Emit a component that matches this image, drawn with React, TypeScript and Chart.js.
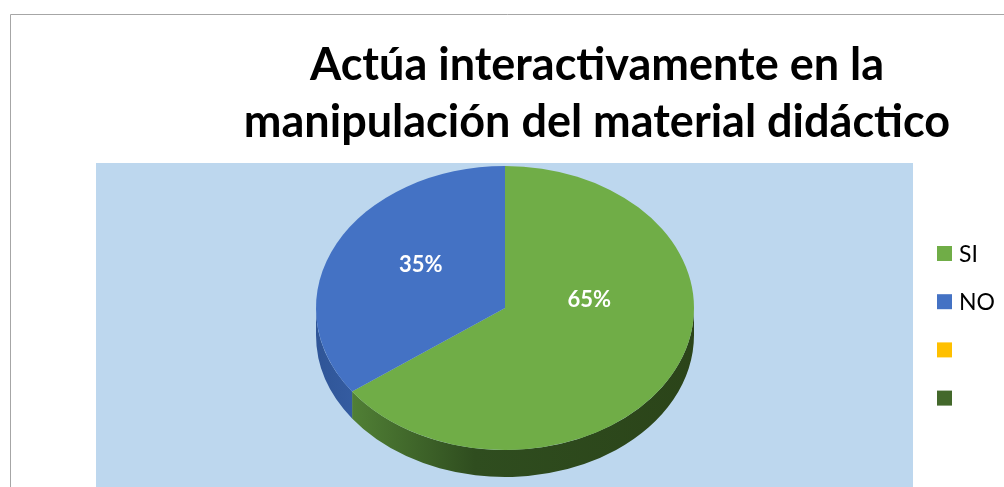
import React, { useEffect, useRef } from 'react';
import { Chart, registerables } from 'chart.js';

Chart.register(...registerables);

const TITLE_LINES = ['Actúa interactivamente en la', 'manipulación del material didáctico'];
const CATEGORIES = ['SI', 'NO', '', ''];
const VALUES = [65, 35, 0, 0];
const TOP_COLORS = ['#70AD47', '#4472C4', '#FFC000', '#43682B'];
const SIDE_STOPS: [number, string][][] = [
  [[0, '#5b8e3d'], [0.1, '#507f35'], [0.42, '#2f4d1f'], [1, '#2b4419']],
  [[0, '#2f5597'], [0.2, '#3a63ab'], [1, '#3a63ab']],
  [[0, '#c99700'], [1, '#c99700']],
  [[0, '#2e4a1e'], [1, '#2e4a1e']],
];

const W = 1004;
const H = 487;
const PLOT = { left: 96, top: 163, right: 913, bottom: 487 };
const PIE = { cx: 505, cy: 308, rx: 189, ry: 142, depth: 27 };
const LABEL = { cy: 282.5, k: 0.54 };
const LEGEND = { boxX: 937, textX: 959, firstY: 253.5, step: 48.2, box: 15, font: '23px Lato' };

const pie3d = {
  id: 'pie3d',
  beforeDraw(chart: any) {
    const ctx = chart.ctx;
    ctx.save();
    ctx.fillStyle = '#ffffff';
    ctx.fillRect(0, 0, chart.width, chart.height);
    ctx.fillStyle = '#BDD7EE';
    ctx.fillRect(PLOT.left, PLOT.top, PLOT.right - PLOT.left, PLOT.bottom - PLOT.top);
    ctx.strokeStyle = '#A6A6A6';
    ctx.lineWidth = 1;
    ctx.beginPath();
    ctx.moveTo(10.5, H);
    ctx.lineTo(10.5, 14.5);
    ctx.lineTo(W, 14.5);
    ctx.stroke();
    ctx.restore();
  },
  beforeDatasetsDraw(chart: any) {
    const ctx = chart.ctx;
    const arcs = chart.getDatasetMeta(0).data;
    arcs.forEach((arc: any, i: number) => {
      const { startAngle, endAngle } = arc.getProps(['startAngle', 'endAngle'], true);
      const a = Math.max(startAngle, 0);
      const b = Math.min(endAngle, Math.PI);
      if (b - a <= 1e-4) return;
      ctx.save();
      ctx.beginPath();
      ctx.ellipse(PIE.cx, PIE.cy, PIE.rx, PIE.ry, 0, a, b, false);
      ctx.ellipse(PIE.cx, PIE.cy + PIE.depth, PIE.rx, PIE.ry, 0, b, a, true);
      ctx.closePath();
      const g = ctx.createLinearGradient(PIE.cx - PIE.rx, 0, PIE.cx + PIE.rx, 0);
      SIDE_STOPS[i].forEach(([o, c]) => g.addColorStop(o, c));
      ctx.fillStyle = g;
      ctx.fill();
      ctx.restore();
    });
    const { x, y, outerRadius } = arcs[0].getProps(['x', 'y', 'outerRadius'], true);
    ctx.save();
    ctx.translate(PIE.cx, PIE.cy);
    ctx.scale(PIE.rx / outerRadius, PIE.ry / outerRadius);
    ctx.translate(-x, -y);
  },
  afterDatasetsDraw(chart: any) {
    const ctx = chart.ctx;
    ctx.restore();
    const arcs = chart.getDatasetMeta(0).data;
    const data = chart.data.datasets[0].data as number[];
    const total = data.reduce((s, v) => s + v, 0);
    ctx.save();
    ctx.fillStyle = '#ffffff';
    ctx.font = 'bold 22px Lato';
    ctx.textAlign = 'center';
    ctx.textBaseline = 'middle';
    arcs.forEach((arc: any, i: number) => {
      const v = data[i];
      if (!v) return;
      const { x, y, outerRadius } = arc.getProps(['x', 'y', 'outerRadius'], true);
      const tp = arc.tooltipPosition(true);
      const sx = PIE.rx / outerRadius;
      const sy = PIE.ry / outerRadius;
      const X = PIE.cx + (tp.x - x) * sx;
      const Y = LABEL.cy + (tp.y - y) * sy * LABEL.k;
      ctx.fillText(Math.round((v / total) * 100) + '%', X, Y);
    });
    ctx.restore();
  },
  afterDraw(chart: any) {
    const ctx = chart.ctx;
    const labels = chart.data.labels as string[];
    const colors = chart.data.datasets[0].backgroundColor as string[];
    ctx.save();
    ctx.font = LEGEND.font;
    ctx.textAlign = 'left';
    ctx.textBaseline = 'middle';
    labels.forEach((label, i) => {
      const cy = LEGEND.firstY + i * LEGEND.step;
      ctx.fillStyle = colors[i];
      ctx.fillRect(LEGEND.boxX, cy - LEGEND.box / 2, LEGEND.box, LEGEND.box);
      if (label) {
        ctx.fillStyle = '#000000';
        ctx.fillText(label, LEGEND.textX, cy + 1);
      }
    });
    ctx.restore();
  },
};

export default function App() {
  const ref = useRef<HTMLCanvasElement | null>(null);
  useEffect(() => {
    if (!ref.current) return;
    const chart = new Chart(ref.current, {
      type: 'pie',
      data: {
        labels: CATEGORIES,
        datasets: [
          {
            data: VALUES,
            backgroundColor: TOP_COLORS,
            borderWidth: 0,
            clip: false,
          } as any,
        ],
      },
      options: {
        responsive: false,
        animation: false,
        devicePixelRatio: 1,
        events: [],
        layout: { padding: { left: 190, top: 27, right: 0, bottom: 0 } },
        plugins: {
          title: {
            display: true,
            text: TITLE_LINES,
            color: '#000000',
            font: { family: 'Lato', size: 45, weight: 'bold', lineHeight: '57px' } as any,
            padding: { top: 10, bottom: 10 },
          },
          legend: { display: false },
          tooltip: { enabled: false },
        },
      } as any,
      plugins: [pie3d as any],
    });
    return () => chart.destroy();
  }, []);
  return (
    <div style={{ position: 'fixed', left: 0, top: 0, width: W, height: H, background: '#fff' }}>
      <canvas ref={ref} width={W} height={H} style={{ display: 'block' }} />
    </div>
  );
}
